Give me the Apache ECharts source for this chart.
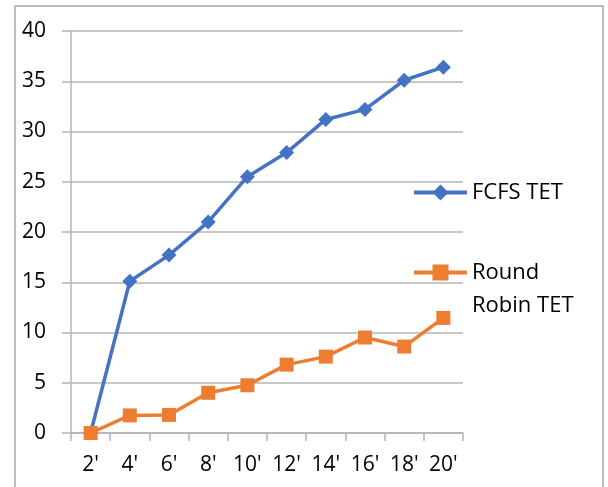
<!DOCTYPE html>
<html>
<head>
<meta charset="utf-8">
<script src="https://cdn.jsdelivr.net/npm/echarts@6/dist/echarts.min.js"></script>
<style>
  html, body { margin: 0; padding: 0; background: #fff; }
  #chart { width: 608px; height: 487px; }
</style>
</head>
<body>
<div id="chart"></div>
<script>
// Time quantum labels along the x axis
const categories = ["2'", "4'", "6'", "8'", "10'", "12'", "14'", "16'", "18'", "20'"];
// Total execution time per scheduling policy
const fcfsTET = [0, 15.1, 17.7, 21.0, 25.5, 27.9, 31.2, 32.2, 35.1, 36.4];
const roundRobinTET = [0, 1.75, 1.8, 4.0, 4.75, 6.8, 7.6, 9.5, 8.6, 11.45];
const seriesNames = ['FCFS TET', 'Round Robin TET'];

const FONT = 'Open Sans';
const BLUE = '#4472C4';
const ORANGE = '#ED7D31';
const GRID = '#b4b4b4';

const chart = echarts.init(document.getElementById('chart'), null, { renderer: 'canvas' });

chart.setOption({
  animation: false,
  backgroundColor: '#fff',
  graphic: [{
    type: 'rect',
    shape: { x: 15, y: 6, width: 588, height: 500 },
    style: { fill: 'none', stroke: '#a6a6a6', lineWidth: 1.5 },
    silent: true
  }],
  grid: { left: 71, right: 145, top: 31, bottom: 54 },
  xAxis: {
    type: 'category',
    data: categories,
    boundaryGap: true,
    axisLine: { show: true, lineStyle: { color: GRID, width: 1.5 } },
    axisTick: { show: true, length: 8, lineStyle: { color: GRID, width: 1.5 } },
    axisLabel: { color: '#000', fontFamily: FONT, fontSize: 21, margin: 22, interval: 0 }
  },
  yAxis: {
    type: 'value',
    min: 0,
    max: 40,
    interval: 5,
    axisLine: { show: true, lineStyle: { color: GRID, width: 1.5 } },
    axisTick: { show: true, length: 9, lineStyle: { color: GRID, width: 1.5 } },
    axisLabel: { color: '#000', fontFamily: FONT, fontSize: 21, margin: 25 },
    splitLine: { show: true, lineStyle: { color: GRID, width: 1.5 } }
  },
  legend: [{
    data: [seriesNames[0]],
    orient: 'vertical',
    left: 412,
    top: 176,
    padding: 0,
    itemWidth: 53,
    itemHeight: 20,
    itemGap: 0,
    lineStyle: { width: 4 },
    textStyle: { color: '#000', fontFamily: FONT, fontSize: 22, lineHeight: 33 }
  }, {
    data: [seriesNames[1]],
    orient: 'vertical',
    left: 412,
    top: 223,
    padding: 0,
    itemWidth: 53,
    itemHeight: 20,
    itemGap: 0,
    lineStyle: { width: 4 },
    // blank first line keeps the icon level with "Round"
    formatter: function () { return ' \nRound\nRobin TET'; },
    textStyle: { color: '#000', fontFamily: FONT, fontSize: 22, lineHeight: 33 }
  }],
  series: [{
    name: seriesNames[0],
    type: 'line',
    data: fcfsTET,
    symbol: 'diamond',
    symbolSize: 15,
    lineStyle: { color: BLUE, width: 3.5 },
    itemStyle: { color: BLUE },
    z: 2
  }, {
    name: seriesNames[1],
    type: 'line',
    data: roundRobinTET,
    symbol: 'rect',
    symbolSize: 14,
    lineStyle: { color: ORANGE, width: 3.5 },
    itemStyle: { color: ORANGE },
    z: 3
  }]
});
</script>
</body>
</html>
